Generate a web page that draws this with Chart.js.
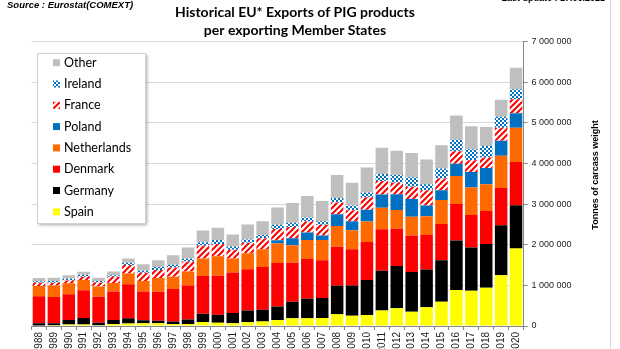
<!DOCTYPE html>
<html>
<head>
<meta charset="utf-8">
<script src="https://cdn.jsdelivr.net/npm/chart.js@4.4.1/dist/chart.umd.min.js"></script>
<style>
  html, body { margin: 0; padding: 0; background: #fff; overflow: hidden; }
  #wrap { position: relative; width: 620px; height: 349px; }
</style>
</head>
<body>
<div id="wrap"><canvas id="myChart"></canvas></div>
<script>
// categories
const years = ['1988','1989','1990','1991','1992','1993','1994','1995','1996','1997','1998',
               '1999','2000','2001','2002','2003','2004','2005','2006','2007','2008','2009',
               '2010','2011','2012','2013','2014','2015','2016','2017','2018','2019','2020'];

// exports in thousand tonnes carcass weight
const spain       = [10,16,40,40,20,50,60,70,66,50,50, 100,80,70,90,110,150,190,190,200,290,250, 270,380,435,350,460,600,885,870,940,1250,1910];
const germany     = [57,50,110,160,60,100,130,70,65,60,110, 200,200,250,290,290,330,410,480,490,700,750, 860,980,1040,980,930,1020,1220,1060,1080,1230,1065];
const denmark     = [663,650,630,680,640,700,840,710,710,800,840, 930,960,1000,1020,1050,1070,960,980,930,960,890, 940,1020,920,900,850,890,900,800,810,920,1065];
const netherlands = [255,280,270,250,250,210,260,260,340,300,340, 430,480,340,390,440,480,430,470,500,510,470, 500,530,460,460,460,590,690,680,660,790,840];
const poland      = [0,0,0,0,0,0,0,0,0,0,0, 0,0,0,0,0,80,170,180,110,290,220, 290,330,390,440,270,240,300,380,400,370,360];
const france      = [82,70,70,80,100,150,210,200,200,230,250, 320,300,220,260,270,280,280,270,260,290,270, 310,330,280,300,370,290,310,290,260,320,340];
const ireland     = [32,40,50,50,40,40,60,50,70,70,70, 80,100,80,80,80,100,100,100,90,110,120, 120,170,190,230,150,250,280,270,280,270,250];
const other       = [83,80,80,74,80,90,100,160,170,230,270, 290,300,290,370,340,430,490,530,500,570,560, 610,650,600,600,610,570,600,570,470,420,530];

const yTicks = [0, 1000000, 2000000, 3000000, 4000000, 5000000, 6000000, 7000000];

const titleLines = ['Historical EU* Exports of PIG products', 'per exporting Member States'];
const axisTitle = 'Tonnes of carcass weight';
const sourceText = 'Source : Eurostat(COMEXT)';
const updateText = 'Last update : 17.06.2021';

function toTonnes(arr) { return arr.map(v => v * 1000); }

function makeChecker() {
    const p = document.createElement('canvas');
    p.width = 4; p.height = 4;
    const g = p.getContext('2d');
    g.fillStyle = '#ffffff'; g.fillRect(0, 0, 4, 4);
    g.fillStyle = '#0070c0'; g.fillRect(0, 0, 2, 2); g.fillRect(2, 2, 2, 2);
    return g.createPattern(p, 'repeat');
}

function makeStripes() {
    const s = 6;
    const p = document.createElement('canvas');
    p.width = s; p.height = s;
    const g = p.getContext('2d');
    g.fillStyle = '#ffffff'; g.fillRect(0, 0, s, s);
    g.strokeStyle = '#ff0000'; g.lineWidth = 2;
    g.beginPath();
    g.moveTo(0, s); g.lineTo(s, 0);
    g.moveTo(-1, 1); g.lineTo(1, -1);
    g.moveTo(s - 1, s + 1); g.lineTo(s + 1, s - 1);
    g.stroke();
    return g.createPattern(p, 'repeat');
}

function fmt(v) { return String(v).replace(/\B(?=(\d{3})+(?!\d))/g, ' '); }

// titles, axis title and the boxed legend drawn on top
const decor = {
    id: 'decor',
    afterDraw(chart) {
        const c = chart.ctx;
        c.save();
        c.strokeStyle = '#d9d9d9'; c.lineWidth = 1;
        c.beginPath(); c.moveTo(610.5, 0); c.lineTo(610.5, 349); c.stroke();

        c.fillStyle = '#000';
        c.textBaseline = 'middle';
        c.font = 'italic bold 9.5px "Liberation Sans"';
        c.textAlign = 'left';
        c.fillText(sourceText, 7, 5.5);
        c.font = 'bold 9px "Liberation Sans"';
        c.textAlign = 'right';
        c.fillText(updateText, 605, -1.5);

        c.textAlign = 'center';
        c.font = 'bold 14px Lato';
        c.fillText(titleLines[0], 295, 12.5);
        c.fillText(titleLines[1], 295, 30);

        c.save();
        c.translate(596, 175);
        c.rotate(-Math.PI / 2);
        c.font = 'bold 9px "Liberation Sans"';
        c.fillText(axisTitle, 0, 0);
        c.restore();

        // legend box
        c.save();
        c.shadowColor = 'rgba(0,0,0,0.35)';
        c.shadowOffsetX = 2; c.shadowOffsetY = 2; c.shadowBlur = 3;
        c.fillStyle = '#fff';
        c.fillRect(37, 53, 108, 170);
        c.restore();
        c.strokeStyle = '#d0d0d0';
        c.strokeRect(37.5, 53.5, 108, 170);

        const ds = chart.data.datasets.slice().reverse();
        c.font = '12.5px Lato';
        c.textAlign = 'left';
        ds.forEach((d, i) => {
            const y = 62.7 + i * 21.3;
            c.fillStyle = d.backgroundColor;
            c.fillRect(53, y - 3.5, 7, 7);
            c.fillStyle = '#000';
            c.fillText(d.label, 64, y);
        });
        c.restore();
    }
};

Chart.defaults.font.family = '"Liberation Sans", Arial, sans-serif';
Chart.defaults.color = '#333';

let ctx = document.getElementById('myChart');
let myChart = new Chart(ctx, {
    type: 'bar',
    data: {
        labels: years,
        datasets: [
            { label: 'Spain', data: toTonnes(spain), backgroundColor: '#ffff00' },
            { label: 'Germany', data: toTonnes(germany), backgroundColor: '#000000' },
            { label: 'Denmark', data: toTonnes(denmark), backgroundColor: '#ff0000' },
            { label: 'Netherlands', data: toTonnes(netherlands), backgroundColor: '#ff6a00' },
            { label: 'Poland', data: toTonnes(poland), backgroundColor: '#0070c0' },
            { label: 'France', data: toTonnes(france), backgroundColor: makeStripes() },
            { label: 'Ireland', data: toTonnes(ireland), backgroundColor: makeChecker() },
            { label: 'Other', data: toTonnes(other), backgroundColor: '#bfbfbf' }
        ]
    },
    options: {
        responsive: true,
        maintainAspectRatio: false,
        animation: false,
        layout: { padding: { left: 31.5, top: 41.7, right: 0, bottom: 0 } },
        datasets: { bar: { barPercentage: 0.84, categoryPercentage: 1.0, borderWidth: 0 } },
        plugins: { legend: { display: false }, title: { display: false }, tooltip: { enabled: false } },
        scales: {
            x: {
                stacked: true,
                afterFit: s => { s.height = 23; },
                grid: { display: true, drawOnChartArea: false, offset: true, tickLength: 4, color: '#868686' },
                border: { color: '#868686' },
                ticks: { autoSkip: false, minRotation: 90, maxRotation: 90, padding: 2, font: { size: 10 }, color: '#222' }
            },
            y: {
                stacked: true,
                position: 'right',
                min: 0,
                max: 7000000,
                afterFit: s => { s.width = 96.5; },
                afterBuildTicks: s => { s.ticks = yTicks.map(v => ({ value: v })); },
                grid: { color: '#d9d9d9', tickColor: '#868686', tickLength: 4 },
                border: { color: '#868686' },
                ticks: { padding: 4, font: { size: 9 }, color: '#222', callback: v => fmt(v) }
            }
        }
    },
    plugins: [decor]
});
</script>
</body>
</html>
